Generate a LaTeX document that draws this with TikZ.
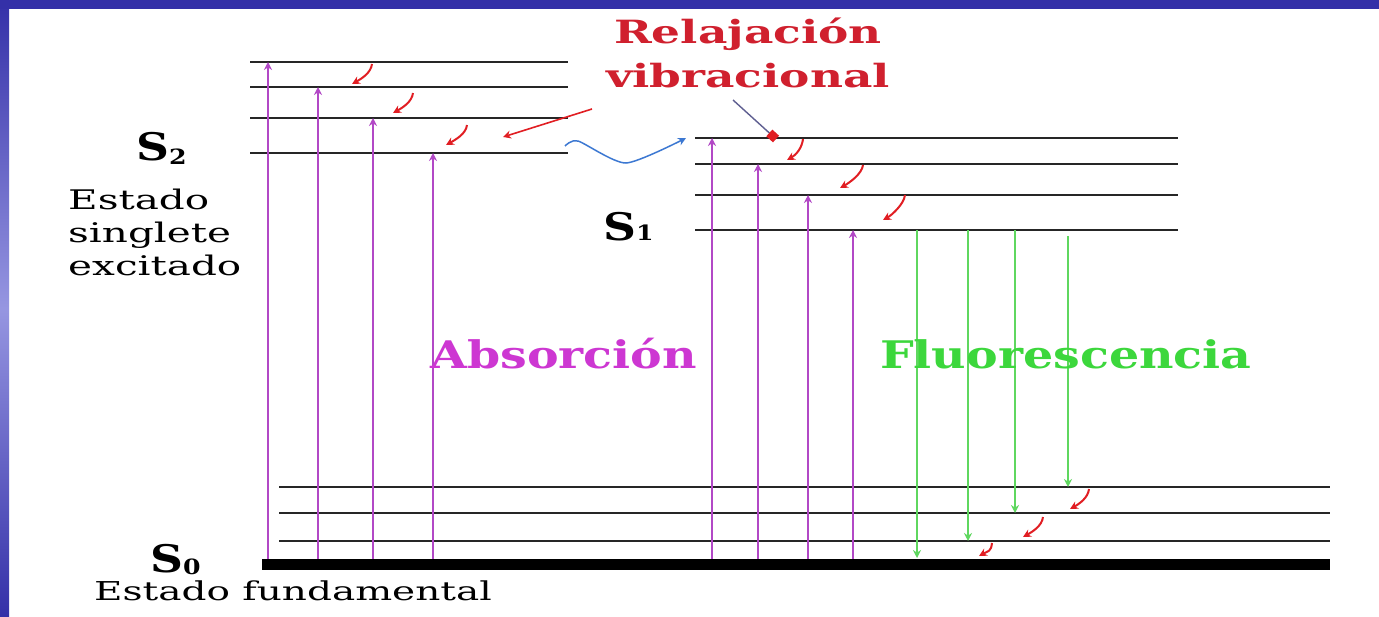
\documentclass[tikz,border=0pt]{standalone}
\usepackage{fontspec}
\usetikzlibrary{arrows.meta}
\newfontfamily\txtfont[FakeStretch=1.5]{DejaVu Serif}
\newfontfamily\lblfont[FakeStretch=1.25]{DejaVu Serif}
\newfontfamily\relfont[FakeStretch=1.42]{DejaVu Serif}
\newfontfamily\stfont[FakeStretch=1.2]{DejaVu Serif}
\definecolor{framebl}{RGB}{52,48,168}
\definecolor{framelt}{RGB}{150,150,225}
\definecolor{relred}{RGB}{208,32,46}
\definecolor{arrred}{RGB}{225,30,35}
\definecolor{abstxt}{RGB}{205,55,210}
\definecolor{absarr}{RGB}{178,72,198}
\definecolor{fluotxt}{RGB}{60,215,60}
\definecolor{fluoarr}{RGB}{95,215,95}
\definecolor{wavebl}{RGB}{60,120,210}
\definecolor{pointer}{RGB}{95,95,145}

\begin{document}
\begin{tikzpicture}[x=1pt, y=-1pt, >={Stealth[length=8pt,width=8pt]},
  level/.style={line width=2.6pt, black!85},
  absarrow/.style={->, line width=2.6pt, absarr},
  fluoarrow/.style={->, line width=2.6pt, fluoarr},
  vibarrow/.style={->, line width=2pt, arrred, >={Stealth[length=8pt,width=8pt]}},
  slabel/.style={anchor=base west, inner sep=0, font=\stfont\bfseries\fontsize{38}{38}\selectfont}]
  \useasboundingbox (0,0) rectangle (1379,616);

  % frame
  \fill[white] (0,0) rectangle (1379,616);
  \shade[top color=framebl, bottom color=framebl, middle color=framelt] (0,0) rectangle (9,616);
  \fill[framebl] (0,0) rectangle (1379,9);

  % S2 vibrational levels
  \foreach \y in {62,87,118,153}
    \draw[level] (250,\y) -- (568,\y);
  % S1 vibrational levels
  \foreach \y in {138,164,195,230}
    \draw[level] (695,\y) -- (1178,\y);
  % S0 levels
  \foreach \y in {487,513,541}
    \draw[level] (279,\y) -- (1330,\y);
  \draw[line width=11pt, black] (262,564) -- (1330,564);

  % absorption
  \foreach \x/\y in {268/62, 318/87, 373/118, 433/153, 712/138, 758/164, 808/195, 853/230}
    \draw[absarrow] (\x,559) -- (\x,\y);

  % fluorescence
  \foreach \x/\ya/\yb in {917/230/558, 968/230/541, 1015/230/513, 1068/236/487}
    \draw[fluoarrow] (\x,\ya) -- (\x,\yb);

  % vibrational relaxation
  \foreach \xa/\ya/\xb/\yb in {372/64/352/84, 413/93/393/113, 467/125/446/145,
      803/139/787/160, 863/165/840/188, 905/195/883/220,
      1089/489/1070/509, 1043/517/1023/537, 992/543/979/556}
    \draw[vibarrow] (\xa,\ya) .. controls +(-1,9) and +(9,-5) .. (\xb,\yb);

  % internal conversion S2 -> S1
  \draw[->, line width=1.5pt, wavebl] plot[smooth, tension=0.4]
    coordinates {(565,146) (578,141) (626,163) (686,138)};

  % labels
  \node[anchor=base, align=center, inner sep=0, text=relred,
    font=\relfont\bfseries\fontsize{32}{44}\selectfont] (relax) at (748,87)
    {Relajación\\vibracional};
  \draw[->, line width=1.6pt, arrred] (592,109) -- (503,137);
  \draw[-{Square[length=9pt,width=9pt,arrred]}, line width=1.4pt, pointer] (733,100) -- (776,139);

  \node[slabel] (s2) at (136,160) {S\lower4pt\hbox{\fontsize{21}{21}\selectfont 2}};
  \node[slabel] (s1) at (603,240) {S\hbox{\fontsize{21}{21}\selectfont 1}};
  \node[slabel] (s0) at (150,572) {S\lower2pt\hbox{\fontsize{21}{21}\selectfont 0}};

  \node[anchor=base west, align=left, inner sep=0,
    font=\txtfont\fontsize{27}{33}\selectfont] (excited) at (68,275)
    {Estado\\singlete\\excitado};
  \node[anchor=base west, inner sep=0, font=\txtfont\fontsize{26}{28}\selectfont]
    (ground) at (94,600) {Estado fundamental};

  \node[anchor=base west, inner sep=0, text=abstxt,
    font=\lblfont\bfseries\fontsize{38}{38}\selectfont] (abs) at (430,368) {Absorción};
  \node[anchor=base west, inner sep=0, text=fluotxt,
    font=\lblfont\bfseries\fontsize{38}{38}\selectfont] (fluo) at (880,368) {Fluorescencia};
\end{tikzpicture}
\end{document}
